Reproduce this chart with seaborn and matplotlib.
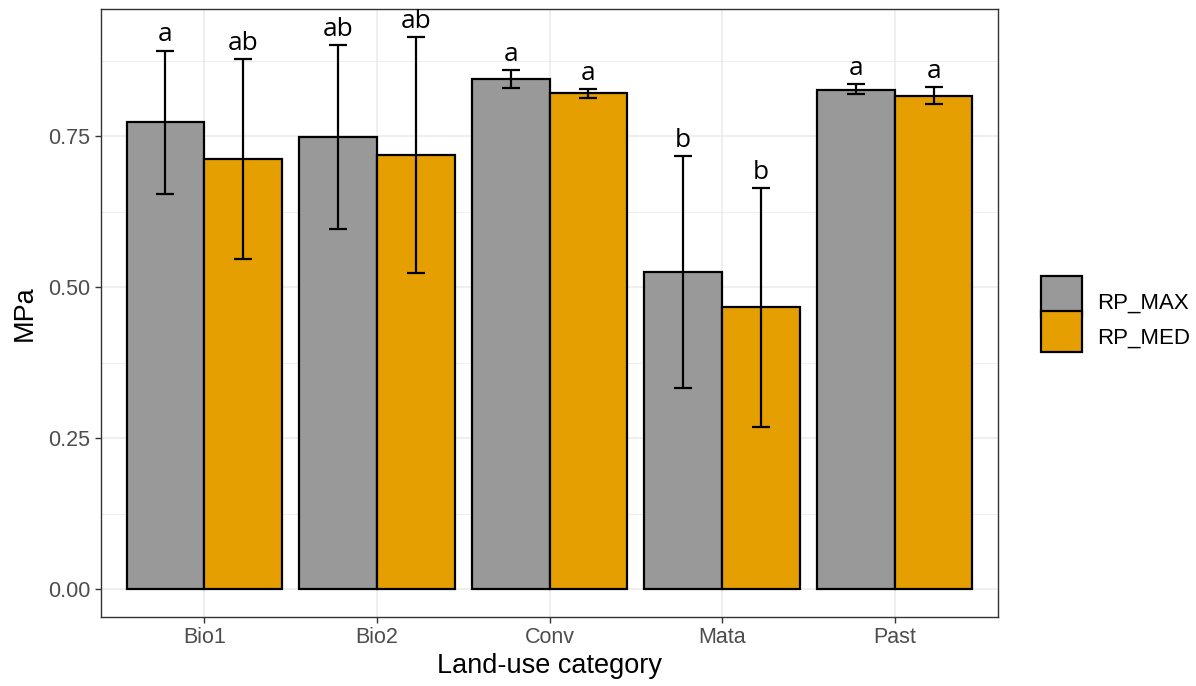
import numpy as np
import pandas as pd
import matplotlib
matplotlib.use("Agg")
import matplotlib.pyplot as plt
import matplotlib.patches as mpatches
from matplotlib.legend_handler import HandlerPatch
from matplotlib.ticker import MultipleLocator, FormatStrFormatter
import seaborn as sns

# ---------------- data ----------------
categories = ["Bio1", "Bio2", "Conv", "Mata", "Past"]
series = ["RP_MAX", "RP_MED"]
rp_max = [0.773, 0.749, 0.845, 0.525, 0.827]
rp_max_lo = [0.655, 0.596, 0.830, 0.333, 0.820]
rp_max_hi = [0.892, 0.901, 0.860, 0.717, 0.836]
rp_med = [0.713, 0.719, 0.822, 0.467, 0.817]
rp_med_lo = [0.547, 0.523, 0.813, 0.268, 0.804]
rp_med_hi = [0.878, 0.915, 0.828, 0.665, 0.831]
letters_max = ["a", "ab", "a", "b", "a"]
letters_med = ["ab", "ab", "a", "b", "a"]
colors = ["#999999", "#E69F00"]

df = pd.DataFrame({
    "cat": categories * 2,
    "var": [series[0]] * len(categories) + [series[1]] * len(categories),
    "val": rp_max + rp_med,
    "lo": rp_max_lo + rp_med_lo,
    "hi": rp_max_hi + rp_med_hi,
    "letter": letters_max + letters_med,
})

sns.set_style("white")
plt.rcParams["font.family"] = ["Liberation Sans", "DejaVu Sans"]

fig = plt.figure(figsize=(11.96, 6.86), dpi=100)
ax = fig.add_axes([0.0842, 0.1006, 0.8347 - 0.0842, 0.9869 - 0.1006])

sns.barplot(data=df, x="cat", y="val", hue="var", order=categories,
            hue_order=series, palette=colors, edgecolor="black",
            linewidth=1.6, errorbar=None, width=0.9, gap=0,
            saturation=1, legend=False, ax=ax, zorder=3)

# error bars and letters
for ci, s in enumerate(series):
    sub = df[df["var"] == s].set_index("cat").loc[categories]
    cont = ax.containers[ci]
    for bar, (_, row) in zip(cont, sub.iterrows()):
        xc = bar.get_x() + bar.get_width() / 2
        ax.errorbar([xc], [row["val"]],
                    yerr=[[row["val"] - row["lo"]], [row["hi"] - row["val"]]],
                    fmt="none", ecolor="black", elinewidth=1.6,
                    capsize=6.2, capthick=1.6, zorder=4)
        ax.annotate(row["letter"], xy=(xc, row["hi"]), xytext=(0, 6.5),
                    textcoords="offset points", ha="center", va="baseline",
                    fontsize=19, family=["Open Sans", "DejaVu Sans"],
                    color="black", zorder=5)

# axes ranges (ggplot-like expansion)
ymax = max(rp_max_hi + rp_med_hi)
ax.set_ylim(-0.05 * ymax, ymax * 1.05)
ax.set_xlim(-0.6, len(categories) - 0.4)

ax.yaxis.set_major_locator(MultipleLocator(0.25))
ax.yaxis.set_minor_locator(MultipleLocator(0.125))
ax.yaxis.set_major_formatter(FormatStrFormatter("%.2f"))

ax.grid(True, which="major", color="#EBEBEB", linewidth=1.1, zorder=0)
ax.grid(True, which="minor", axis="y", color="#EBEBEB", linewidth=0.6, zorder=0)
ax.set_axisbelow(True)

for sp in ax.spines.values():
    sp.set_visible(True)
    sp.set_color("#333333")
    sp.set_linewidth(1.0)

ax.tick_params(axis="both", which="major", length=4.5, width=1.0,
               color="#333333", labelcolor="#4D4D4D", labelsize=15.5, pad=3,
               left=True, bottom=True)
ax.tick_params(axis="both", which="minor", length=0)

ax.set_xlabel("Land-use category", fontsize=19.5, color="black", labelpad=3)
ax.set_ylabel("MPa", fontsize=19.5, color="black", labelpad=7)

# legend
def full_rect(legend, orig_handle, xdescent, ydescent, width, height, fontsize):
    return mpatches.Rectangle((-xdescent, -ydescent + 1.5), width,
                              height + ydescent - 3.0)

handles = [mpatches.Patch(facecolor=c, edgecolor="black", linewidth=1.6)
           for c in colors]
leg = fig.legend(handles, series, loc="center left",
                 bbox_to_anchor=(0.870, 0.535), bbox_transform=fig.transFigure,
                 frameon=False, fontsize=16, handlelength=1.85,
                 handleheight=2.03, labelspacing=0.0, handletextpad=0.7,
                 borderpad=0, borderaxespad=0,
                 handler_map={mpatches.Patch: HandlerPatch(patch_func=full_rect)})
for t in leg.get_texts():
    t.set_color("black")

fig.savefig("out.png", dpi=100)
